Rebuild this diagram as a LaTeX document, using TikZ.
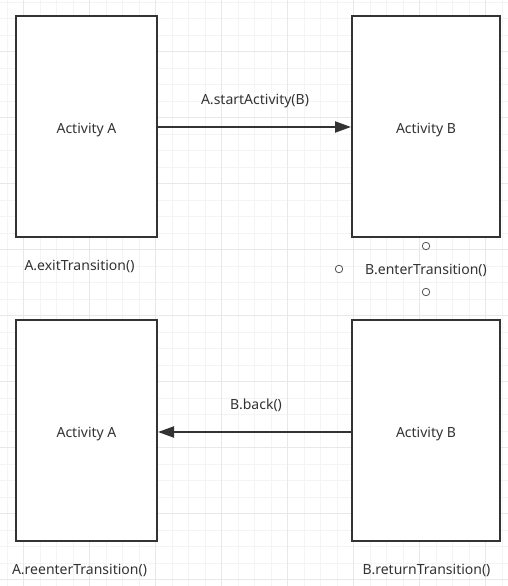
\documentclass[tikz,border=0pt]{standalone}
\usepackage{fontspec}
\setmainfont{Noto Sans}
\usetikzlibrary{arrows.meta}
\definecolor{ink}{HTML}{333333}
\definecolor{gridminor}{HTML}{F4F4F4}
\definecolor{gridmajor}{HTML}{E8E8E8}
\definecolor{handle}{HTML}{555555}
\begin{document}
\begin{tikzpicture}[x=1pt,y=-1pt,
  actbox/.style={draw=ink,line width=2pt,fill=white,inner sep=0pt,font=\fontsize{14}{16}\selectfont,text=ink,text height=13.5pt,text depth=0pt},
  lbl/.style={font=\fontsize{14}{16}\selectfont,text=ink,inner sep=0pt},
  conn/.style={draw=ink,line width=2pt,-{Triangle[length=16pt,width=11pt]}},
  hnd/.style={circle,draw=handle,line width=0.8pt,minimum size=7.5pt,inner sep=0pt,fill=white}]
\useasboundingbox (0,0) rectangle (508,586);
\fill[white] (0,0) rectangle (508,586);
% grid
\foreach \i in {0,...,31} {
  \draw[gridminor,line width=0.8pt] ({7.2+16.5*\i},0) -- ({7.2+16.5*\i},586);
}
\foreach \i in {0,...,36} {
  \draw[gridminor,line width=0.8pt] (0,{2.2+16.5*\i}) -- (508,{2.2+16.5*\i});
}
\foreach \i in {0,...,7} {
  \draw[gridmajor,line width=0.8pt] ({23.7+66*\i},0) -- ({23.7+66*\i},586);
}
\foreach \i in {0,...,8} {
  \draw[gridmajor,line width=0.8pt] (0,{51.7+66*\i}) -- (508,{51.7+66*\i});
}
% boxes
\node[actbox,minimum width=141pt,minimum height=221pt] (a1) at (86.5,126.5) {Activity A};
\node[actbox,minimum width=148pt,minimum height=221pt] (b1) at (426,126.5) {Activity B};
\node[actbox,minimum width=141pt,minimum height=221pt] (a2) at (86.5,430.5) {Activity A};
\node[actbox,minimum width=148pt,minimum height=221pt] (b2) at (426,430.5) {Activity B};
% connectors
\draw[conn] (a1.east |- 0,127) -- (b1.west |- 0,127);
\draw[conn] (b2.west |- 0,432) -- (a2.east |- 0,432);
% labels
\node[lbl] (l1) at (255,101) {A.startActivity(B)};
\node[lbl] (l2) at (256,405) {B.back()};
\node[lbl] (l3) at (79.5,266) {A.exitTransition()};
\node[lbl] (l4) at (426,270) {B.enterTransition()};
\node[lbl] (l5) at (79.5,570) {A.reenterTransition()};
\node[lbl] (l6) at (426.5,570) {B.returnTransition()};
% handles
\node[hnd] (h1) at (426,246) {};
\node[hnd] (h2) at (339,269) {};
\node[hnd] (h3) at (426,292) {};
\end{tikzpicture}
\end{document}
